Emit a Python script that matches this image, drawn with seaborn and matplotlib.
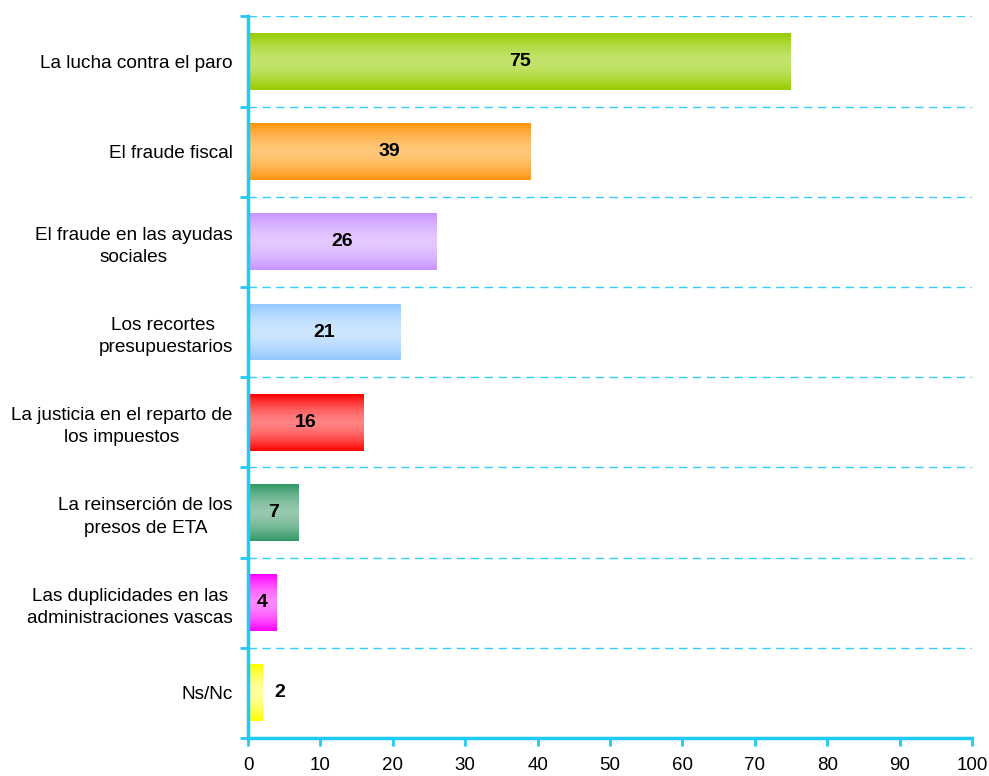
import numpy as np
import pandas as pd
import seaborn as sns
import matplotlib.pyplot as plt
from matplotlib.colors import LinearSegmentedColormap

categories = [
    "La lucha contra el paro",
    "El fraude fiscal",
    "El fraude en las ayudas\nsociales",
    "Los recortes \npresupuestarios",
    "La justicia en el reparto de\nlos impuestos",
    "La reinserción de los\npresos de ETA",
    "Las duplicidades en las\nadministraciones vascas",
    "Ns/Nc",
]
values = [75, 39, 26, 21, 16, 7, 4, 2]
edge_colors = ["#99CC00", "#FF9410", "#C895FF", "#94C8FF", "#FF0000", "#339966", "#FF00FF", "#FFFF00"]
mid_colors = ["#C2E46C", "#FFC878", "#E4C8FF", "#CCE6FF", "#FF8282", "#96C8AE", "#FF88FF", "#FFFFA0"]

df = pd.DataFrame({"cat": categories, "val": values})

sns.set_style("white")
plt.rcParams["font.family"] = ["Liberation Sans", "DejaVu Sans"]
plt.rcParams["text.color"] = "black"
plt.rcParams["xtick.color"] = "black"
plt.rcParams["ytick.color"] = "black"

fig = plt.figure(figsize=(9.89, 7.76), dpi=100)
ax = fig.add_axes([0.2508, 0.049, 0.732, 0.930])

sns.barplot(data=df, x="val", y="cat", hue="cat", palette=edge_colors,
            legend=False, width=0.63, ax=ax, saturation=1)

# vertical gradient fill on each bar
prof = np.abs(np.linspace(-1, 1, 64)) ** 1.6
for patch, c0, c1 in zip(ax.patches, edge_colors, mid_colors):
    cmap = LinearSegmentedColormap.from_list("g", [c1, c0])
    x0, y0 = patch.get_x(), patch.get_y()
    w, h = patch.get_width(), patch.get_height()
    im = ax.imshow(prof.reshape(-1, 1), cmap=cmap, aspect="auto",
                   extent=[x0, x0 + w, y0 + h, y0], zorder=2, vmin=0, vmax=1)
    im.set_clip_path(patch)
    patch.set_edgecolor("none")

for i, v in enumerate(values):
    if v > 3:
        ax.text(v / 2, i, str(v), ha="center", va="center",
                fontsize=14, fontweight="bold", zorder=5)
    else:
        ax.text(v + 1.6, i, str(v), ha="left", va="center",
                fontsize=14, fontweight="bold", zorder=5)

axis_col = "#1ECBF5"
ax.set_xlim(0, 100)
ax.set_ylim(len(values) - 0.5, -0.5)
ax.set_xticks(range(0, 101, 10))
ax.set_yticks(np.arange(-0.5, len(values), 1), minor=True)
ax.tick_params(axis="y", which="major", left=False, length=0, labelsize=13.7, pad=11)
ax.tick_params(axis="y", which="minor", left=True, length=6, width=2, color=axis_col, direction="out")
ax.tick_params(axis="x", bottom=True, length=6, width=2, color=axis_col, labelsize=13.5, pad=8)
for lbl in ax.get_yticklabels():
    lbl.set_multialignment("center")
    lbl.set_linespacing(1.4)
ax.grid(False)
ax.grid(True, which="minor", axis="y", color="#33CCFF", linestyle=(0, (6, 4)), linewidth=1)
ax.set_axisbelow(True)

for s in ["top", "right"]:
    ax.spines[s].set_visible(False)
for s in ["left", "bottom"]:
    ax.spines[s].set_color(axis_col)
    ax.spines[s].set_linewidth(2.5)

ax.set_xlabel("")
ax.set_ylabel("")

fig.savefig("out.png", dpi=100)
